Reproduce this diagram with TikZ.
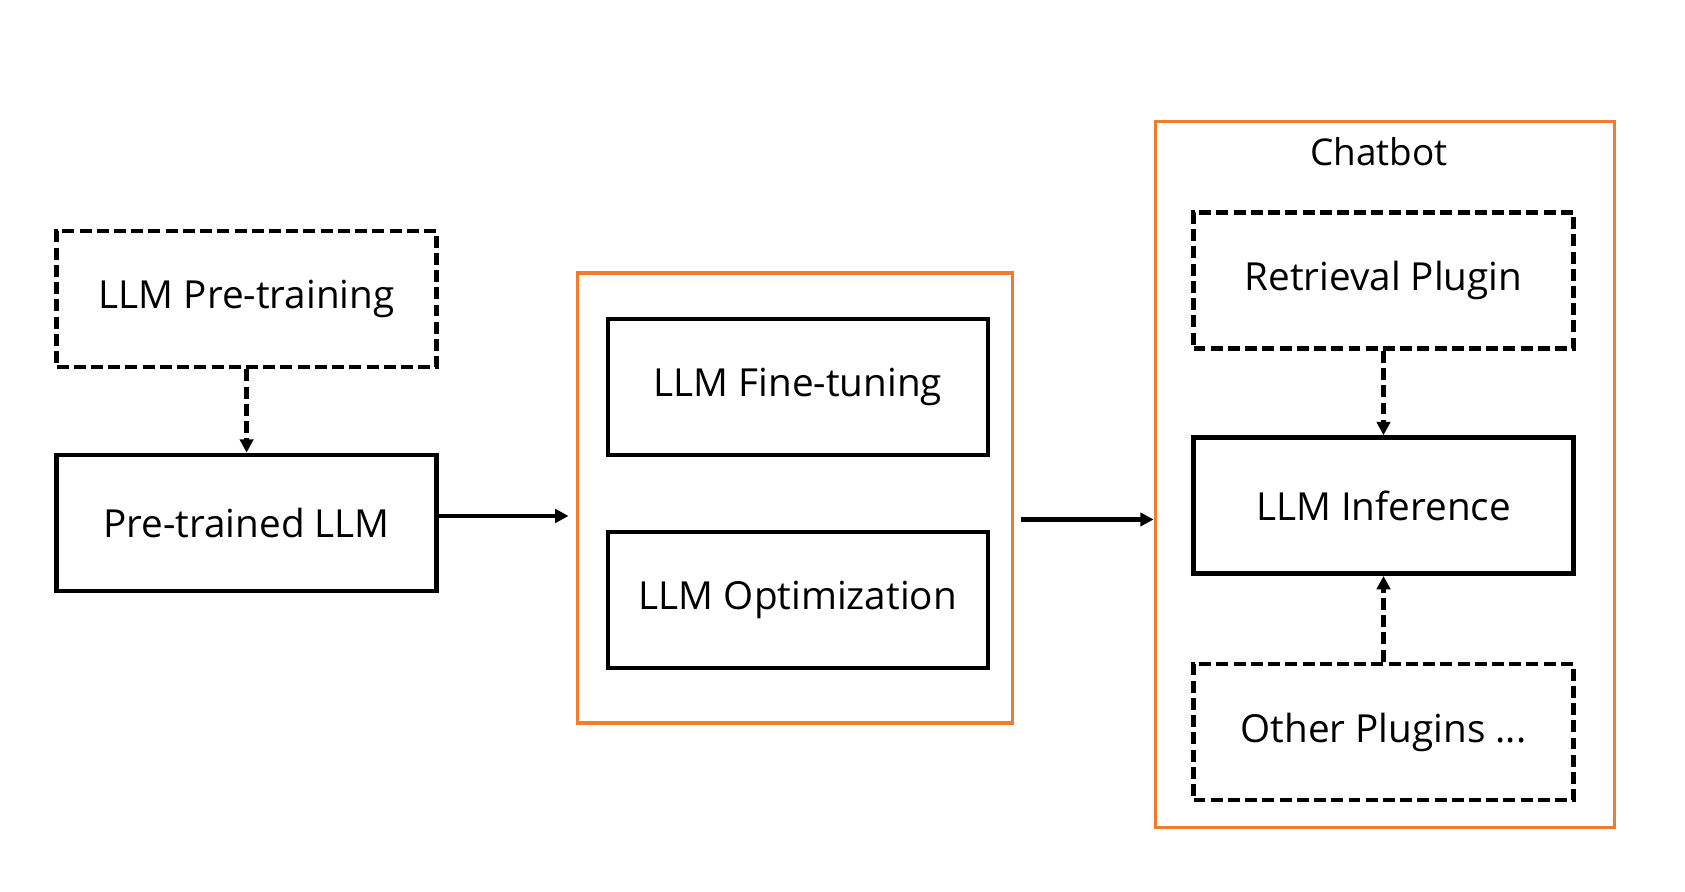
\documentclass[tikz,border=0pt]{standalone}
\usepackage{fontspec}
\setmainfont{Open Sans}
\usetikzlibrary{arrows.meta,positioning}
\definecolor{llmorange}{HTML}{ED7D31}

\begin{document}
\begin{tikzpicture}[
    every node/.style={font=\fontsize{11pt}{13pt}\selectfont},
    solidbox/.style={draw, rectangle, line width=1.35pt, minimum width=3.8cm, minimum height=1.36cm},
    dashbox/.style={solidbox, dash pattern=on 3.4pt off 1.5pt},
    groupbox/.style={draw=llmorange, rectangle, line width=0.9pt},
    flow/.style={-{Triangle[length=3.8pt,width=3.8pt]}, line width=1.2pt},
    dashflow/.style={flow, dash pattern=on 3.4pt off 1.5pt}
  ]
  \useasboundingbox (0,0) rectangle (16.85,8.92);

  % Pre-training
  \node[dashbox] (pretrain) at (2.466,5.93) {LLM Pre-training};
  \node[solidbox] (pretrained) at (2.466,3.69) {Pre-trained LLM};

  % Fine-tuning and optimization
  \node[groupbox, minimum width=4.35cm, minimum height=4.5cm] (tuning) at (7.947,3.94) {};
  \node[solidbox] (finetune) at (7.979,5.05) {LLM Fine-tuning};
  \node[solidbox] (optimize) at (7.979,2.92) {LLM Optimization};

  % Chatbot
  \node[groupbox, minimum width=4.59cm, minimum height=7.06cm] (chatbot) at (13.847,4.176) {};
  \node[font=\fontsize{10.5pt}{12pt}\selectfont] (chatlabel) at (13.79,7.40) {Chatbot};
  \node[dashbox] (retrieval) at (13.835,6.115) {Retrieval Plugin};
  \node[solidbox] (inference) at (13.835,3.864) {LLM Inference};
  \node[dashbox] (plugins) at (13.835,1.60) {Other Plugins ...};

  % Arrows
  \draw[dashflow] (pretrain) -- (pretrained);
  \draw[flow, shorten >=2pt] ([yshift=2pt]pretrained.east) -- ([yshift=2pt]tuning.west |- pretrained.east);
  \draw[flow, shorten <=2pt] ([yshift=1pt]tuning.east |- pretrained.east) -- ([yshift=1pt]chatbot.west |- pretrained.east);
  \draw[dashflow] (retrieval) -- (inference);
  \draw[dashflow] (plugins) -- (inference);
\end{tikzpicture}
\end{document}
